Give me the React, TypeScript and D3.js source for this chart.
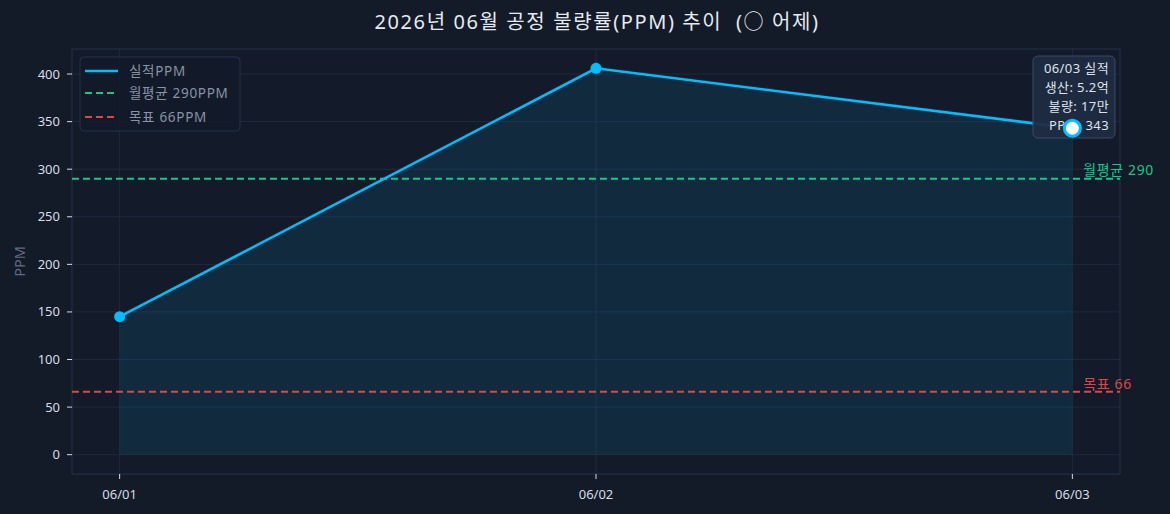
import React from "react";
import * as d3 from "d3";

const categories = ["06/01", "06/02", "06/03"];
const ppmValues = [145, 406, 343];
const yTicks = [0, 50, 100, 150, 200, 250, 300, 350, 400];
const avgPPM = 290;
const targetPPM = 66;
const titleText = "2026년 06월 공정 불량률(PPM) 추이  (○ 어제)";
const legendLabels = ["실적PPM", "월평균 290PPM", "목표 66PPM"];
const tooltipLines = ["06/03 실적", "생산: 5.2억", "불량: 17만", "PPM: 343"];

const W = 1170;
const H = 514;
const FONT = "'Noto Sans', 'Noto Sans CJK KR', sans-serif";
const BG = "#131a28";
const CYAN = "#00bfff";
const GREEN = "#12c98a";
const RED = "#e04646";

export default function App() {
  const left = 72, right = 1120, top = 49, bottom = 474;
  const x = d3.scaleLinear().domain([-0.1, 2.1]).range([left, right]);
  const y = d3.scaleLinear().domain([-20.3, 426.3]).range([bottom, top]);

  const line = d3.line<number>().x((_, i) => x(i)).y((d) => y(d));
  const area = d3.area<number>().x((_, i) => x(i)).y0(y(0)).y1((d) => y(d));

  const last = ppmValues.length - 1;

  return (
    <div style={{ position: "fixed", left: 0, top: 0, width: W, height: H, background: BG }}>
      <svg width={W} height={H} style={{ display: "block", fontFamily: FONT, whiteSpace: "pre" }}>
        <rect width={W} height={H} fill={BG} />
        <rect x={left} y={top} width={right - left} height={bottom - top} fill="#131a29" />
        {yTicks.map((t) => (
          <line key={"gy" + t} x1={left} x2={right} y1={y(t)} y2={y(t)} stroke="#1f2a3d" strokeWidth={1} />
        ))}
        {categories.map((c, i) => (
          <line key={"gx" + c} x1={x(i)} x2={x(i)} y1={top} y2={bottom} stroke="#1f2a3d" strokeWidth={1} />
        ))}
        <path d={area(ppmValues) || ""} fill={CYAN} fillOpacity={0.1} />
        <rect x={left} y={top} width={right - left} height={bottom - top} fill="none" stroke="#25324a" strokeWidth={1} />
        <line x1={left} x2={right} y1={y(avgPPM)} y2={y(avgPPM)} stroke={GREEN} strokeWidth={2} strokeDasharray="7,4" />
        <line x1={left} x2={right} y1={y(targetPPM)} y2={y(targetPPM)} stroke={RED} strokeWidth={2} strokeDasharray="7,4" />
        <text x={x(2) + 11} y={y(avgPPM) - 4} fill={GREEN} fontSize={14} letterSpacing={0.6}>월평균 {avgPPM}</text>
        <text x={x(2) + 11} y={y(targetPPM) - 3} fill={RED} fontSize={14} letterSpacing={0.6}>목표 {targetPPM}</text>
        <path d={line(ppmValues) || ""} fill="none" stroke={CYAN} strokeWidth={2.6} />
        {ppmValues.slice(0, last).map((v, i) => (
          <circle key={"p" + i} cx={x(i)} cy={y(v)} r={5.5} fill={CYAN} />
        ))}
        <rect x={1033} y={56} width={82} height={82} rx={5} fill="#1f2b42" fillOpacity={0.92} stroke="#3a4b68" strokeWidth={1} />
        {tooltipLines.map((t, i) => (
          <text key={"tt" + i} x={1109} y={72.5 + i * 19.3} textAnchor="end" fill="#dfe4ec" fontSize={13} letterSpacing={0.4}>{t}</text>
        ))}
        <circle cx={x(last)} cy={y(ppmValues[last])} r={8} fill="#ffffff" stroke={CYAN} strokeWidth={3} />
        {yTicks.map((t) => (
          <g key={"yt" + t}>
            <line x1={left - 5} x2={left} y1={y(t)} y2={y(t)} stroke="#d8dde6" strokeWidth={1} />
            <text x={left - 12} y={y(t)} dy="0.35em" textAnchor="end" fill="#d8dde6" fontSize={13}>{t}</text>
          </g>
        ))}
        {categories.map((c, i) => (
          <g key={"xt" + c}>
            <line x1={x(i)} x2={x(i)} y1={bottom} y2={bottom + 5} stroke="#d8dde6" strokeWidth={1} />
            <text x={x(i)} y={bottom + 25} textAnchor="middle" fill="#d8dde6" fontSize={13}>{c}</text>
          </g>
        ))}
        <text transform={`translate(25,${(top + bottom) / 2}) rotate(-90)`} textAnchor="middle" fill="#5f6c82" fontSize={14.5}>PPM</text>
        <text x={(left + right) / 2 + 1} y={29} textAnchor="middle" fill="#e6eaf0" fontSize={20} letterSpacing={1.6} style={{ whiteSpace: "pre" }}>{titleText}</text>
        <rect x={80} y={57} width={160} height={74} rx={4} fill="#131a29" fillOpacity={0.85} stroke="#25324a" strokeWidth={1} />
        <line x1={85} x2={118} y1={71} y2={71} stroke={CYAN} strokeWidth={2.6} />
        <line x1={85} x2={118} y1={93} y2={93} stroke={GREEN} strokeWidth={2} strokeDasharray="7,4" />
        <line x1={85} x2={118} y1={117} y2={117} stroke={RED} strokeWidth={2} strokeDasharray="7,4" />
        {legendLabels.map((l, i) => (
          <text key={"lg" + i} x={129} y={[71, 93, 117][i]} dy="0.35em" fill="#8893a6" fontSize={13.5} letterSpacing={0.7}>{l}</text>
        ))}
      </svg>
    </div>
  );
}
